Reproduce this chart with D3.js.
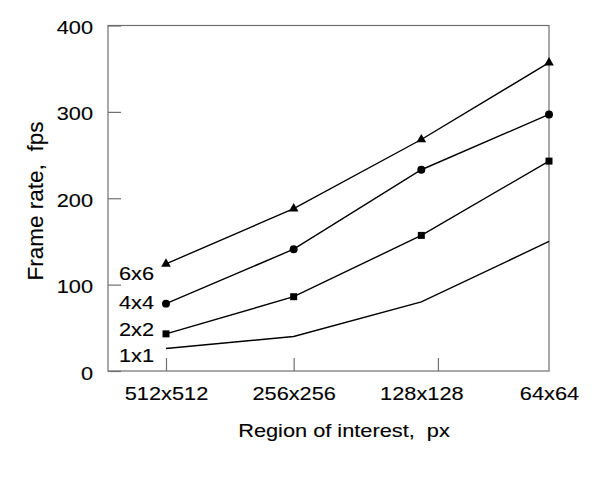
<!DOCTYPE html>
<html>
<head>
<meta charset="utf-8">
<script src="https://cdn.jsdelivr.net/npm/d3@7"></script>
<style>
  html, body { margin: 0; padding: 0; background: #fff; }
  text { stroke: #000; stroke-width: 0.12px; }
</style>
</head>
<body>
<div id="chart"></div>
<script>
// Data
const categories = ["512x512", "256x256", "128x128", "64x64"];
const seriesNames = ["6x6", "4x4", "2x2", "1x1"];
const fps6x6 = [124, 188, 268, 357];
const fps4x4 = [78, 141, 233, 297];
const fps2x2 = [43, 86, 157, 243];
const fps1x1 = [26, 40, 80, 150];
const seriesLabelAt = [105, 72, 40, 10]; // fps value where each name sits
const yTicks = [0, 100, 200, 300, 400];
const xTickAt = [0, 1, 2.13]; // tick marks on the x axis, in category index

const seriesValues = [fps6x6, fps4x4, fps2x2, fps1x1];
const markerTypes = [d3.symbolTriangle, d3.symbolCircle, d3.symbolSquare, null];
const markerSizes = [40, 50, 49, 0];

// Dimensions
const dimensions = { width: 599, height: 499 };
const plot = { left: 108, right: 549, top: 25.5, bottom: 371 };
const font = "'Liberation Sans', Arial, sans-serif";
const sx = 1.17; // the text in the picture is a little wide
const gray = "#6f6f6f";

const svg = d3
  .select("#chart")
  .append("svg")
  .attr("width", dimensions.width)
  .attr("height", dimensions.height)
  .style("display", "block");

svg.append("rect")
  .attr("width", dimensions.width)
  .attr("height", dimensions.height)
  .attr("fill", "#fff");

// Scales
const xScale = d3.scaleLinear()
  .domain([0, categories.length - 1])
  .range([166, plot.right]);

const yScale = d3.scaleLinear()
  .domain([0, 400])
  .range([plot.bottom, plot.top]);

// Frame
svg.append("rect")
  .attr("x", plot.left)
  .attr("y", plot.top)
  .attr("width", plot.right - plot.left)
  .attr("height", plot.bottom - plot.top)
  .attr("fill", "none")
  .attr("stroke", gray)
  .attr("stroke-width", 1.2);

// Y axis
const yAxisG = svg.append("g")
  .attr("transform", `translate(${plot.left}, 0)`)
  .call(d3.axisLeft(yScale).tickValues(yTicks).tickSizeInner(-13).tickSizeOuter(0).tickPadding(15));
yAxisG.select(".domain").remove();
yAxisG.attr("font-family", font).attr("font-size", 18.6);
yAxisG.selectAll("line").attr("stroke", gray).attr("stroke-width", 1.2);
yAxisG.selectAll("text")
  .attr("fill", "#000")
  .attr("x", -15 / sx)
  .attr("dy", "0.43em")
  .attr("transform", `scale(${sx},1)`);

// X axis: tick marks
const xTickG = svg.append("g")
  .attr("transform", `translate(0, ${plot.bottom})`)
  .call(d3.axisBottom(xScale).tickValues(xTickAt).tickSizeInner(-13).tickSizeOuter(0).tickFormat(""));
xTickG.select(".domain").remove();
xTickG.selectAll("line").attr("stroke", gray).attr("stroke-width", 1.2);

// X axis: category labels
const xLabelG = svg.append("g")
  .attr("transform", `translate(0, ${plot.bottom})`)
  .call(d3.axisBottom(xScale)
    .tickValues(d3.range(categories.length))
    .tickSize(0)
    .tickPadding(16)
    .tickFormat((i) => categories[i]));
xLabelG.select(".domain").remove();
xLabelG.attr("font-family", font).attr("font-size", 18.6);
xLabelG.selectAll("text")
  .attr("fill", "#000")
  .attr("transform", `scale(${sx},1)`);

// Axis titles
svg.append("g")
  .attr("transform", `translate(344, 437)`)
  .append("text")
  .attr("transform", `scale(${sx},1)`)
  .attr("text-anchor", "middle")
  .attr("font-family", font)
  .attr("font-size", 18.6)
  .attr("fill", "#000")
  .style("white-space", "pre")
  .text("Region of interest,  px");

svg.append("text")
  .attr("transform", "translate(43, 201) rotate(-90)")
  .attr("text-anchor", "middle")
  .attr("font-family", font)
  .attr("font-size", 22.5)
  .attr("fill", "#000")
  .style("white-space", "pre")
  .text("Frame rate,  fps");

// Lines
const lineGenerator = d3.line()
  .x((d, i) => xScale(i))
  .y((d) => yScale(d));

seriesValues.forEach((values, s) => {
  svg.append("path")
    .datum(values)
    .attr("d", lineGenerator)
    .attr("fill", "none")
    .attr("stroke", "#000")
    .attr("stroke-width", 1.4);

  if (markerTypes[s]) {
    svg.append("g")
      .selectAll("path")
      .data(values)
      .join("path")
      .attr("transform", (d, i) => `translate(${xScale(i)}, ${yScale(d)})`)
      .attr("d", d3.symbol().type(markerTypes[s]).size(markerSizes[s]))
      .attr("fill", "#000");
  }

  // Series name
  svg.append("g")
    .attr("transform", `translate(154, ${yScale(seriesLabelAt[s])})`)
    .append("text")
    .attr("transform", `scale(${sx},1)`)
    .attr("text-anchor", "end")
    .attr("font-family", font)
    .attr("font-size", 18.6)
    .attr("fill", "#000")
    .text(seriesNames[s]);
});
</script>
</body>
</html>
